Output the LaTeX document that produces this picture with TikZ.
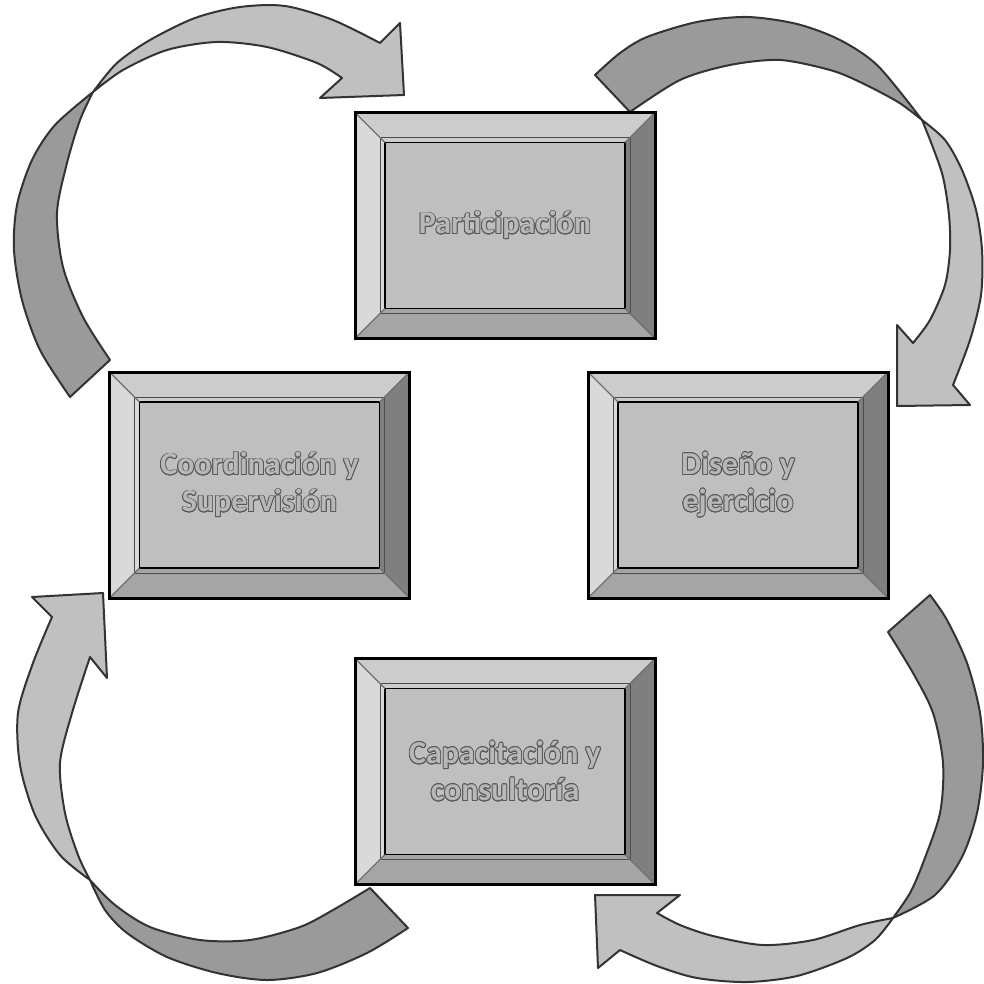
\documentclass[tikz,border=0pt]{standalone}
\usepackage{fontspec}
\setmainfont{Carlito}
\usepackage{contour}
\contourlength{0.8pt}
\usetikzlibrary{calc}
\definecolor{facec}{HTML}{BFBFBF}
\definecolor{topc}{HTML}{CCCCCC}
\definecolor{leftc}{HTML}{D9D9D9}
\definecolor{rightc}{HTML}{7F7F7F}
\definecolor{botc}{HTML}{A5A5A5}
\definecolor{arrlight}{HTML}{C0C0C0}
\definecolor{arrdark}{HTML}{9A9A9A}
\definecolor{txtfill}{HTML}{B8B8B8}
\definecolor{txtedge}{HTML}{585858}
\definecolor{diagc}{HTML}{707070}
\newcommand\ctext[1]{\contour{txtedge}{#1}}
\begin{document}
\begin{tikzpicture}[x=1pt,y=-1pt,
  arrowpart/.style={draw=black!80, line width=2pt, line join=round},
  darkpart/.style={arrowpart, fill=arrdark},
  lightpart/.style={arrowpart, fill=arrlight},
  bevelbox/.style={minimum width=300pt, minimum height=226pt, inner sep=0pt,
    align=center, font=\fontsize{32}{37}\selectfont\bfseries, text=txtfill,
    fill=facec, draw=black, line width=3pt,
    path picture={
      \coordinate (NW) at (path picture bounding box.north west);
      \coordinate (NE) at (path picture bounding box.north east);
      \coordinate (SW) at (path picture bounding box.south west);
      \coordinate (SE) at (path picture bounding box.south east);
      \coordinate (iNW) at ($(NW)+(30pt,-30pt)$);
      \coordinate (iNE) at ($(NE)+(-30pt,-30pt)$);
      \coordinate (iSW) at ($(SW)+(30pt,30pt)$);
      \coordinate (iSE) at ($(SE)+(-30pt,30pt)$);
      \fill[topc] (NW) -- (NE) -- (iNE) -- (iNW) -- cycle;
      \fill[leftc] (NW) -- (iNW) -- (iSW) -- (SW) -- cycle;
      \fill[rightc] (NE) -- (iNE) -- (iSE) -- (SE) -- cycle;
      \fill[botc] (SW) -- (iSW) -- (iSE) -- (SE) -- cycle;
      \draw[black!70, line width=0.6pt] ($(NW)+(25pt,-25pt)$) rectangle ($(SE)+(-25pt,25pt)$);
      \draw[black, line width=1.5pt] (iNW) rectangle (iSE);
      \draw[diagc, line width=1.3pt] (NW) -- (iNW) (NE) -- (iNE) (SW) -- (iSW) (SE) -- (iSE);
    }}]
\useasboundingbox (0,0) rectangle (984,984);
\fill[white] (0,0) rectangle (984,984);

% ---- top-left arrow ----
\filldraw[darkpart] plot[smooth] coordinates {(70,397) (40,350) (22,300) (14,250) (17,205) (32,160) (55,125) (93,92)}
  -- plot[smooth] coordinates {(93,92) (80,120) (67,163) (57,213) (63,267) (83,317) (110,360)} -- cycle;
\filldraw[lightpart] plot[smooth] coordinates {(93,92) (117,63) (150,40) (195,18) (240,7) (285,6) (333,20) (380,43)}
  -- (400,23) -- (404,95) -- (320,98) -- plot[smooth] coordinates {(342,78) (317,63) (267,47) (217,42) (167,50) (123,70) (93,92)} -- cycle;

% ---- top-right arrow ----
\filldraw[darkpart] plot[smooth] coordinates {(595,75) (620,53) (647,37) (697,22) (747,17) (797,24) (840,40) (878,66) (922,120)}
  -- plot[smooth] coordinates {(922,120) (898,102) (860,82) (830,70) (780,60) (730,65) (680,80) (630,112)} -- cycle;
\filldraw[lightpart] plot[smooth] coordinates {(922,120) (945,140) (962,170) (976,210) (982,250) (981,295) (970,340) (953,385)}
  -- (970,405) -- (897,406) -- (897,325) -- plot[smooth] coordinates {(913,343) (930,320) (945,285) (950,250) (949,215) (943,177) (932,145) (922,120)} -- cycle;

% ---- bottom-right arrow ----
\filldraw[darkpart] plot[smooth] coordinates {(930,595) (947,620) (967,663) (980,713) (983,763) (977,813) (962,857) (935,895) (893,918)}
  -- plot[smooth] coordinates {(893,918) (910,893) (923,863) (940,813) (943,763) (933,713) (913,673) (888,632)} -- cycle;
\filldraw[lightpart] plot[smooth] coordinates {(893,918) (875,940) (847,958) (797,976) (747,982) (697,978) (657,966) (620,950)}
  -- (598,968) -- (595,895) -- (680,895) -- plot[smooth] coordinates {(657,913) (680,925) (713,936) (763,945) (813,940) (860,925) (893,918)} -- cycle;

% ---- bottom-left arrow ----
\filldraw[darkpart] plot[smooth] coordinates {(408,928) (367,953) (317,973) (267,980) (217,973) (167,957) (127,933) (105,910) (90,880)}
  -- plot[smooth] coordinates {(90,880) (115,905) (150,927) (200,940) (250,940) (300,927) (333,910) (370,888)} -- cycle;
\filldraw[lightpart] plot[smooth] coordinates {(90,880) (60,855) (35,815) (20,765) (18,713) (33,663) (52,617)}
  -- (32,597) -- (103,593) -- (107,678) -- plot[smooth] coordinates {(90,657) (72,713) (60,763) (65,813) (78,855) (90,880)} -- cycle;

% ---- boxes ----
\node[bevelbox] (top) at (505,225.5) {\ctext{Participación}};
\node[bevelbox] (left) at (259.5,485) {\ctext{Coordinación y}\\\ctext{Supervisión}};
\node[bevelbox] (right) at (738,485) {\ctext{Diseño y}\\\ctext{ejercicio}};
\node[bevelbox] (bottom) at (505,771.5) {\ctext{Capacitación y}\\\ctext{consultoría}};
\end{tikzpicture}
\end{document}
